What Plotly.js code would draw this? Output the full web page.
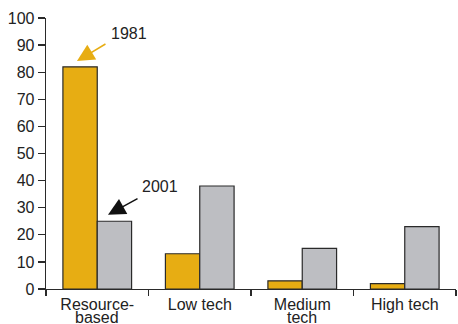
<!DOCTYPE html>
<html>
<head>
<meta charset="utf-8">
<script src="https://cdn.plot.ly/plotly-3.0.1.min.js"></script>
<style>html,body{margin:0;padding:0;background:#fff;}#chart{width:458px;height:324px;}</style>
</head>
<body>
<div id="chart"></div>
<script>
// Data
var categories = ["Resource-based", "Low tech", "Medium tech", "High tech"];
var tickLine1 = ["Resource-", "Low tech", "Medium", "High tech"];
var tickLine2 = ["based", "", "tech", ""];
var values1981 = [82, 13, 3, 2];
var values2001 = [25, 38, 15, 23];
var yTicks = [0, 10, 20, 30, 40, 50, 60, 70, 80, 90, 100];

var FONT = "Liberation Sans, Arial, sans-serif";
var gold = "#E7AD13";
var grey = "#BDBEC2";
var edge = "#2a2a2a";

var traces = [
  {type: "bar", name: "1981", x: categories, y: values1981,
   marker: {color: gold, line: {color: edge, width: 1.2}}},
  {type: "bar", name: "2001", x: categories, y: values2001,
   marker: {color: grey, line: {color: edge, width: 1.2}}}
];

var annotations = [
  {xref: "x", yref: "y", x: -0.198, y: 84.1, ax: 30, ay: -18, text: "",
   showarrow: true, arrowhead: 2, arrowsize: 2.3, arrowwidth: 1.5, arrowcolor: gold, standoff: 0},
  {xref: "x", yref: "y", x: 0.31, y: 94.1, text: "1981", showarrow: false,
   font: {family: FONT, size: 16, color: "#222"}},
  {xref: "x", yref: "y", x: 0.105, y: 27.4, ax: 31, ay: -17, text: "",
   showarrow: true, arrowhead: 2, arrowsize: 2.3, arrowwidth: 1.5, arrowcolor: "#111", standoff: 0},
  {xref: "x", yref: "y", x: 0.617, y: 37.9, text: "2001", showarrow: false,
   font: {family: FONT, size: 16, color: "#222"}}
];
for (var i = 0; i < categories.length; i++) {
  if (tickLine2[i]) {
    annotations.push({xref: "x", yref: "paper", x: i, y: 0, yshift: -28,
      yanchor: "middle", text: tickLine2[i], showarrow: false,
      font: {family: FONT, size: 16, color: "#222"}});
  }
}

var layout = {
  width: 458, height: 324,
  margin: {l: 46, r: 2, t: 18, b: 35},
  paper_bgcolor: "#fff", plot_bgcolor: "#fff",
  showlegend: false,
  barmode: "group", bargap: 0.33, bargroupgap: 0,
  font: {family: FONT, size: 16, color: "#222"},
  xaxis: {
    type: "category", range: [-0.5, 3.5],
    tickmode: "array", tickvals: categories, ticktext: tickLine1,
    tickson: "boundaries", ticks: "outside", ticklen: 6, tickwidth: 1.3, tickcolor: edge,
    showline: true, linecolor: edge, linewidth: 1.3,
    showgrid: false, zeroline: false,
    tickfont: {family: FONT, size: 16, color: "#222"}
  },
  yaxis: {
    range: [0, 100], tickmode: "array", tickvals: yTicks,
    ticks: "outside", ticklen: 7, tickwidth: 1.3, tickcolor: edge,
    showline: true, linecolor: edge, linewidth: 1.3,
    showgrid: false, zeroline: false,
    tickfont: {family: FONT, size: 16, color: "#222"}
  },
  annotations: annotations
};

Plotly.newPlot("chart", traces, layout, {displayModeBar: false, staticPlot: true});
</script>
</body>
</html>
